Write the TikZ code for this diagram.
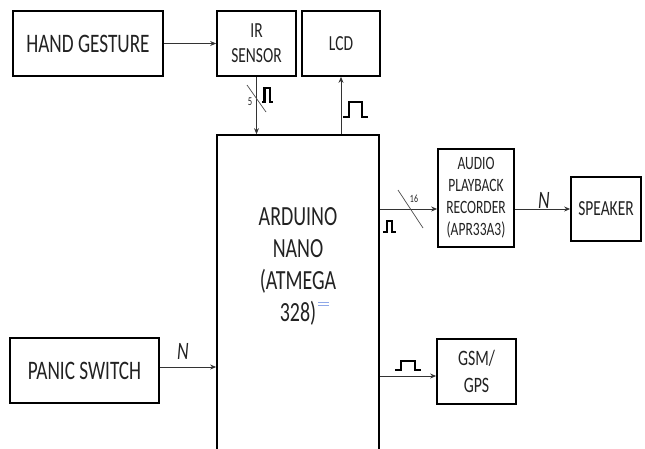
\documentclass[tikz,border=0pt]{standalone}
\usepackage{fontspec}
\setmainfont[FakeStretch=0.72]{Carlito}
\usetikzlibrary{arrows.meta}
\definecolor{txt}{HTML}{222222}
\definecolor{anchorblue}{HTML}{8FA8E8}
\begin{document}
\begin{tikzpicture}[x=1pt,y=-1pt,
  box/.style={draw=black, line width=1.7pt, inner sep=0pt, align=center, text=txt},
  arr/.style={draw=black!80, line width=0.9pt, -{Stealth[length=6pt,width=5pt]}},
  pulse/.style={draw=black, line width=2.6pt, line join=miter},
  slash/.style={draw=black!70, line width=0.7pt},
  bigf/.style={font=\fontsize{26.7}{31}\selectfont},
  midf/.style={font=\fontsize{21.5}{25}\selectfont},
  smlf/.style={font=\fontsize{18.8}{22}\selectfont},
  tinyf/.style={font=\fontsize{12}{12}\selectfont, text=txt, inner sep=0pt},
  nlab/.style={font=\fontsize{25}{25}\itshape\selectfont, text=txt, inner sep=0pt}]
\useasboundingbox (0,0) rectangle (645,448);
\clip (0,0) rectangle (645,448);
% boxes
\node[box, bigf, minimum width=150pt, minimum height=65pt] (hand) at (88,43.5) {HAND GESTURE};
\node[box, midf, minimum width=79pt, minimum height=65pt] (ir) at (256.5,43.5) {IR\\SENSOR};
\node[box, midf, minimum width=78pt, minimum height=65pt] (lcd) at (341,43.5) {LCD};
\node[box, minimum width=162pt, minimum height=335pt] (ard) at (298,302.5) {};
\node[align=center, text=txt, font=\fontsize{27.7}{32}\selectfont] (ardtxt) at (298,266) {ARDUINO\\NANO\\(ATMEGA\\328)};
\node[box, smlf, minimum width=76pt, minimum height=98pt] (audio) at (476,198) {AUDIO\\PLAYBACK\\RECORDER\\(APR33A3)};
\node[box, midf, minimum width=70pt, minimum height=64pt] (spk) at (606,209) {SPEAKER};
\node[box, bigf, minimum width=149pt, minimum height=65pt] (panic) at (84.5,370.5) {PANIC SWITCH};
\node[box, minimum width=79pt, minimum height=65pt, font=\fontsize{22}{27}\selectfont] (gsm) at (476.5,371.5) {GSM/\\GPS};
% connectors
\draw[arr] (hand.east) -- (ir.west);
\draw[arr] (ir.south) -- (ir.south |- ard.north);
\draw[arr] (ard.north -| lcd.south) -- (lcd.south);
\coordinate (rowA) at (0,209);
\draw[arr] (ard.east |- rowA) -- (audio.west |- rowA);
\draw[arr] (audio.east |- spk.west) -- (spk.west);
\draw[arr] ([yshift=3.5pt]panic.east) -- ([yshift=3.5pt]panic.east -| ard.west);
\draw[arr] ([yshift=-4.5pt]gsm.west -| ard.east) -- ([yshift=-4.5pt]gsm.west);
% bus slashes and widths
\draw[slash] (247,85) -- (266,112);
\node[tinyf] (w5) at (250,102) {5};
\draw[slash] (398,190) -- (423,228);
\node[tinyf, font=\fontsize{11}{11}\selectfont] (w16) at (414,199) {16};
% pulse symbols
\draw[pulse] (262,102) -- (264.5,102) -- (264.5,88) -- (270,88) -- (270,102) -- (273,102);
\draw[pulse] (343,117) -- (349,117) -- (349,102) -- (362,102) -- (362,117) -- (368,117);
\draw[pulse] (383,232) -- (387,232) -- (387,221) -- (392,221) -- (392,232) -- (396,232);
\draw[pulse] (395,370) -- (401,370) -- (401,361) -- (415,361) -- (415,370) -- (421,370);
% N labels
\node[nlab] (n1) at (183,351) {N};
\node[nlab] (n2) at (544,200) {N};
% small anchor mark
\draw[anchorblue, line width=0.8pt] (318,302) -- (329,302) (318,305) -- (329,305);
\end{tikzpicture}
\end{document}
